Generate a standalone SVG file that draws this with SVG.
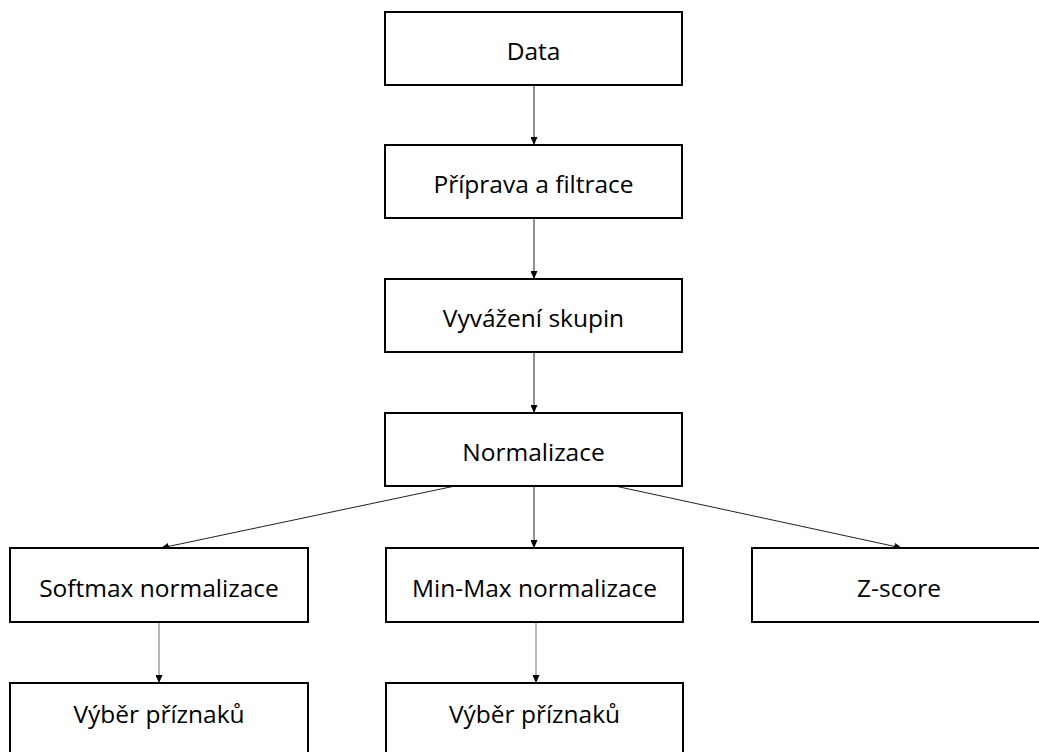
<svg xmlns="http://www.w3.org/2000/svg" width="1039" height="752" viewBox="0 0 1039 752">
<style>
.box{fill:#fff;stroke:#000;stroke-width:2}
.lbl{font-family:"Open Sans","Liberation Sans",sans-serif;font-size:24.5px;fill:#000;text-anchor:middle;dominant-baseline:central}
.c{stroke:#222;stroke-width:1;fill:none}
.g{stroke:#888;stroke-width:1.2;fill:none}
</style>
<defs>
<marker id="ah" viewBox="0 0 10 10" refX="10" refY="5" markerWidth="8" markerHeight="7" markerUnits="userSpaceOnUse" orient="auto" preserveAspectRatio="none">
<path d="M0,0 L10,5 L0,10 z" fill="#000"/>
</marker>
</defs>
<rect width="1039" height="752" fill="#fff"/>
<g id="connectors">
<line class="c" x1="534" y1="86" x2="534" y2="145" marker-end="url(#ah)"/>
<line class="c" x1="534" y1="219" x2="534" y2="279" marker-end="url(#ah)"/>
<line class="c" x1="534" y1="353" x2="534" y2="413" marker-end="url(#ah)"/>
<line class="c" x1="534" y1="486" x2="534" y2="548" marker-end="url(#ah)"/>
<line class="c" x1="455" y1="486" x2="161" y2="548" marker-end="url(#ah)"/>
<line class="c" x1="615" y1="486" x2="902" y2="548" marker-end="url(#ah)"/>
<line class="g" x1="159" y1="623" x2="159" y2="683" marker-end="url(#ah)"/>
<line class="g" x1="536" y1="623" x2="536" y2="683" marker-end="url(#ah)"/>
</g>
<g id="n-data"><rect class="box" x="385" y="12" width="297" height="73"/><text class="lbl" x="533.5" y="50">Data</text></g>
<g id="n-priprava"><rect class="box" x="385" y="145" width="297" height="73"/><text class="lbl" x="533.5" y="183">Příprava a filtrace</text></g>
<g id="n-vyvazeni"><rect class="box" x="385" y="279" width="297" height="73"/><text class="lbl" x="533.5" y="317">Vyvážení skupin</text></g>
<g id="n-normalizace"><rect class="box" x="385" y="413" width="297" height="73"/><text class="lbl" x="533.5" y="451">Normalizace</text></g>
<g id="n-softmax"><rect class="box" x="10" y="548" width="298" height="74"/><text class="lbl" x="159" y="587">Softmax normalizace</text></g>
<g id="n-minmax"><rect class="box" x="386" y="548" width="297" height="74"/><text class="lbl" x="534.5" y="587">Min-Max normalizace</text></g>
<g id="n-zscore"><rect class="box" x="752" y="548" width="300" height="74"/><text class="lbl" x="899" y="587">Z-score</text></g>
<g id="n-vyber1"><rect class="box" x="10" y="683" width="298" height="80"/><text class="lbl" x="159" y="713">Výběr příznaků</text></g>
<g id="n-vyber2"><rect class="box" x="386" y="683" width="297" height="80"/><text class="lbl" x="534.5" y="713">Výběr příznaků</text></g>
</svg>
